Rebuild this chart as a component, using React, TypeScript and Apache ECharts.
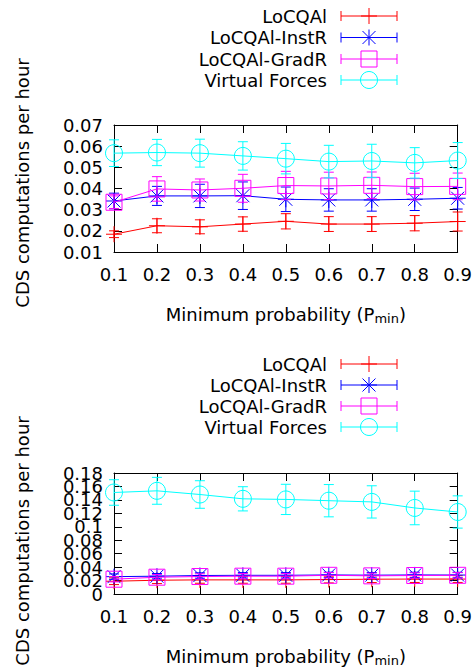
import React, { useEffect, useRef } from "react";
import * as echarts from "echarts";

const X_VALUES = [0.1, 0.2, 0.3, 0.4, 0.5, 0.6, 0.7, 0.8, 0.9];
const SERIES_NAMES = ["LoCQAl", "LoCQAl-InstR", "LoCQAl-GradR", "Virtual Forces"];

// Top chart
const TOP_LOCQAL = [0.0184, 0.0224, 0.0219, 0.0232, 0.0245, 0.0232, 0.0232, 0.0236, 0.0244];
const TOP_LOCQAL_ERR = [0.0016, 0.0033, 0.0033, 0.0034, 0.0036, 0.0035, 0.0035, 0.0036, 0.0045];
const TOP_INSTR = [0.0341, 0.0365, 0.0365, 0.0366, 0.0349, 0.0346, 0.0346, 0.0349, 0.0354];
const TOP_INSTR_ERR = [0.0037, 0.0045, 0.0055, 0.0065, 0.0058, 0.0053, 0.0053, 0.0053, 0.0051];
const TOP_GRADR = [0.0335, 0.0398, 0.0393, 0.0401, 0.0414, 0.0412, 0.0415, 0.0409, 0.041];
const TOP_GRADR_ERR = [0.003, 0.0058, 0.0052, 0.0066, 0.0067, 0.0065, 0.0063, 0.0063, 0.0063];
const TOP_VF = [0.0567, 0.057, 0.0567, 0.0554, 0.0541, 0.0527, 0.053, 0.0521, 0.0532];
const TOP_VF_ERR = [0.0063, 0.0062, 0.0066, 0.0067, 0.0072, 0.0077, 0.0079, 0.0072, 0.0085];

// Bottom chart
const BOT_LOCQAL = [0.019, 0.0205, 0.021, 0.021, 0.021, 0.0215, 0.022, 0.0222, 0.0222];
const BOT_LOCQAL_ERR = [0.005, 0.005, 0.005, 0.005, 0.005, 0.005, 0.005, 0.005, 0.005];
const BOT_INSTR = [0.0258, 0.0265, 0.0275, 0.0278, 0.0278, 0.0284, 0.028, 0.0284, 0.0282];
const BOT_INSTR_ERR = [0.004, 0.004, 0.004, 0.004, 0.004, 0.004, 0.004, 0.004, 0.004];
const BOT_GRADR = [0.022, 0.025, 0.026, 0.0265, 0.0265, 0.0278, 0.027, 0.0275, 0.0278];
const BOT_GRADR_ERR = [0.004, 0.004, 0.004, 0.004, 0.004, 0.004, 0.004, 0.004, 0.004];
const BOT_VF = [0.151, 0.1535, 0.148, 0.1416, 0.1407, 0.1388, 0.137, 0.128, 0.122];
const BOT_VF_ERR = [0.019, 0.02, 0.0205, 0.018, 0.0225, 0.024, 0.024, 0.025, 0.024];

const COLORS = ["#ff0000", "#0000ff", "#ff00ff", "#00ffff"];
const MARKERS = ["plus", "star", "square", "circle"];
const FONT = "DejaVu Sans";
const FS = 18;

function markerShapes(kind: string, cx: number, cy: number, st: any): any[] {
  const ln = (x1: number, y1: number, x2: number, y2: number) => ({
    type: "line",
    shape: { x1, y1, x2, y2 },
    style: st,
  });
  if (kind === "plus") {
    return [ln(cx - 8, cy, cx + 8, cy), ln(cx, cy - 8, cx, cy + 8)];
  }
  if (kind === "star") {
    return [
      ln(cx - 8, cy, cx + 8, cy),
      ln(cx, cy - 8, cx, cy + 8),
      ln(cx - 6.5, cy - 6.5, cx + 6.5, cy + 6.5),
      ln(cx - 6.5, cy + 6.5, cx + 6.5, cy - 6.5),
    ];
  }
  if (kind === "square") {
    return [{ type: "rect", shape: { x: cx - 8, y: cy - 8, width: 16, height: 16 }, style: st }];
  }
  return [{ type: "circle", shape: { cx, cy, r: 8.5 }, style: st }];
}

function makeSeries(idx: number, ys: number[], es: number[], axisIdx: number): any[] {
  const color = COLORS[idx];
  const marker = MARKERS[idx];
  const line = {
    type: "line",
    name: SERIES_NAMES[idx],
    xAxisIndex: axisIdx,
    yAxisIndex: axisIdx,
    data: X_VALUES.map((x, i) => [x, ys[i]]),
    symbol: "none",
    lineStyle: { color, width: 1 },
    z: 2 + idx,
  };
  const custom = {
    type: "custom",
    name: SERIES_NAMES[idx] + " err",
    xAxisIndex: axisIdx,
    yAxisIndex: axisIdx,
    data: X_VALUES.map((x, i) => [x, ys[i], es[i]]),
    encode: { x: 0, y: 1 },
    clip: false,
    z: 2 + idx,
    renderItem: (params: any, api: any) => {
      const x = api.value(0);
      const y = api.value(1);
      const e = api.value(2);
      const c = api.coord([x, y]);
      const t = api.coord([x, y + e]);
      const b = api.coord([x, y - e]);
      const st = { stroke: color, lineWidth: 1, fill: "none" };
      const children = [
        { type: "line", shape: { x1: c[0], y1: t[1], x2: c[0], y2: b[1] }, style: st },
        { type: "line", shape: { x1: c[0] - 5, y1: t[1], x2: c[0] + 5, y2: t[1] }, style: st },
        { type: "line", shape: { x1: c[0] - 5, y1: b[1], x2: c[0] + 5, y2: b[1] }, style: st },
        ...markerShapes(marker, c[0], c[1], st),
      ];
      return { type: "group", children };
    },
  };
  return [line, custom];
}

function legendGraphics(rowYs: number[]): any[] {
  const out: any[] = [];
  rowYs.forEach((y, i) => {
    const color = COLORS[i];
    const st = { stroke: color, lineWidth: 1, fill: "none" };
    out.push({
      type: "text",
      x: 327,
      y,
      style: {
        text: SERIES_NAMES[i],
        fontFamily: FONT,
        fontSize: FS,
        fill: "#000",
        align: "right",
        verticalAlign: "middle",
      },
    });
    out.push({ type: "line", shape: { x1: 341, y1: y, x2: 397, y2: y }, style: st });
    out.push({ type: "line", shape: { x1: 341, y1: y - 5, x2: 341, y2: y + 5 }, style: st });
    out.push({ type: "line", shape: { x1: 397, y1: y - 5, x2: 397, y2: y + 5 }, style: st });
    markerShapes(MARKERS[i], 369, y, st).forEach((m) => out.push(m));
  });
  return out;
}

const fmtY = (v: number) => String(Math.round(v * 100) / 100);

function xAxes(gridIndex: number): any[] {
  const common = {
    type: "value",
    gridIndex,
    min: 0.1,
    max: 0.9,
    interval: 0.1,
    splitLine: { show: false },
    axisLine: { show: true, onZero: false, lineStyle: { color: "#000", width: 1 } },
    axisTick: { show: true, inside: true, length: 8, lineStyle: { color: "#000" } },
  };
  return [
    {
      ...common,
      position: "bottom",
      axisLabel: {
        show: true,
        margin: 13,
        fontFamily: FONT,
        fontSize: FS,
        color: "#000",
        showMinLabel: true,
        showMaxLabel: true,
        formatter: (v: number) => v.toFixed(1),
      },
      name: "Minimum probability (P{sub|min})",
      nameLocation: "middle",
      nameGap: 51,
      nameTextStyle: {
        fontFamily: FONT,
        fontSize: FS,
        color: "#000",
        rich: {
          sub: { fontFamily: FONT, fontSize: 13, color: "#000", padding: [9, 0, 0, 0] },
        },
      },
    },
    { ...common, position: "top", axisLabel: { show: false } },
  ];
}

function labelStyle(formatter: (v: number) => string) {
  return {
    show: true,
    margin: 11,
    fontFamily: FONT,
    fontSize: FS,
    color: "#000",
    showMinLabel: true,
    showMaxLabel: true,
    hideOverlap: false,
    formatter,
  };
}

function yAxes(gridIndex: number, min: number, max: number, interval: number, split: boolean): any[] {
  const common = {
    type: "value",
    gridIndex,
    min,
    max,
    interval,
    splitLine: { show: false },
    axisLine: { show: true, onZero: false, lineStyle: { color: "#000", width: 1 } },
    axisTick: { show: true, inside: true, length: 8, lineStyle: { color: "#000" } },
  };
  const idxOf = (v: number) => Math.round((v - min) / interval);
  const axes: any[] = [
    {
      ...common,
      position: "left",
      axisLabel: labelStyle(split ? (v: number) => (idxOf(v) % 2 === 0 ? fmtY(v) : "") : fmtY),
    },
    { ...common, position: "right", axisLabel: { show: false } },
  ];
  if (split) {
    // Second label layer so that the (overlapping, as in the reference) labels are all kept
    axes.push({
      ...common,
      position: "left",
      axisLine: { show: false, onZero: false },
      axisTick: { show: false },
      axisLabel: labelStyle((v: number) => (idxOf(v) % 2 === 1 ? fmtY(v) : "")),
    });
  }
  return axes;
}

export default function App() {
  const ref = useRef<HTMLDivElement>(null);
  useEffect(() => {
    if (!ref.current) return;
    const chart = echarts.init(ref.current, undefined, { renderer: "svg" });
    const xA = [...xAxes(0), ...xAxes(1)];
    const yA = [...yAxes(0, 0.01, 0.07, 0.01, false), ...yAxes(1, 0, 0.18, 0.02, true)];
    const series = [
      ...makeSeries(0, TOP_LOCQAL, TOP_LOCQAL_ERR, 0),
      ...makeSeries(1, TOP_INSTR, TOP_INSTR_ERR, 0),
      ...makeSeries(2, TOP_GRADR, TOP_GRADR_ERR, 0),
      ...makeSeries(3, TOP_VF, TOP_VF_ERR, 0),
      ...makeSeries(0, BOT_LOCQAL, BOT_LOCQAL_ERR, 2),
      ...makeSeries(1, BOT_INSTR, BOT_INSTR_ERR, 2),
      ...makeSeries(2, BOT_GRADR, BOT_GRADR_ERR, 2),
      ...makeSeries(3, BOT_VF, BOT_VF_ERR, 2),
    ];
    const yTitle = (y: number) => ({
      type: "text",
      x: 22,
      y,
      rotation: Math.PI / 2,
      style: {
        text: "CDS computations per hour",
        fontFamily: FONT,
        fontSize: FS,
        fill: "#000",
        align: "center",
        verticalAlign: "middle",
      },
    });
    chart.setOption({
      animation: false,
      backgroundColor: "#fff",
      grid: [
        { left: 114, right: 17, top: 125, height: 127 },
        { left: 114, right: 17, top: 473, height: 127 },
      ],
      xAxis: xA,
      yAxis: yA,
      series,
      graphic: [
        ...legendGraphics([16, 37.5, 59, 80]),
        ...legendGraphics([364, 385, 406, 427]),
        yTitle(183),
        yTitle(541),
      ],
    });
    return () => chart.dispose();
  }, []);
  return (
    <div
      ref={ref}
      style={{ position: "fixed", left: 0, top: 0, width: 475, height: 668, background: "#fff" }}
    />
  );
}
